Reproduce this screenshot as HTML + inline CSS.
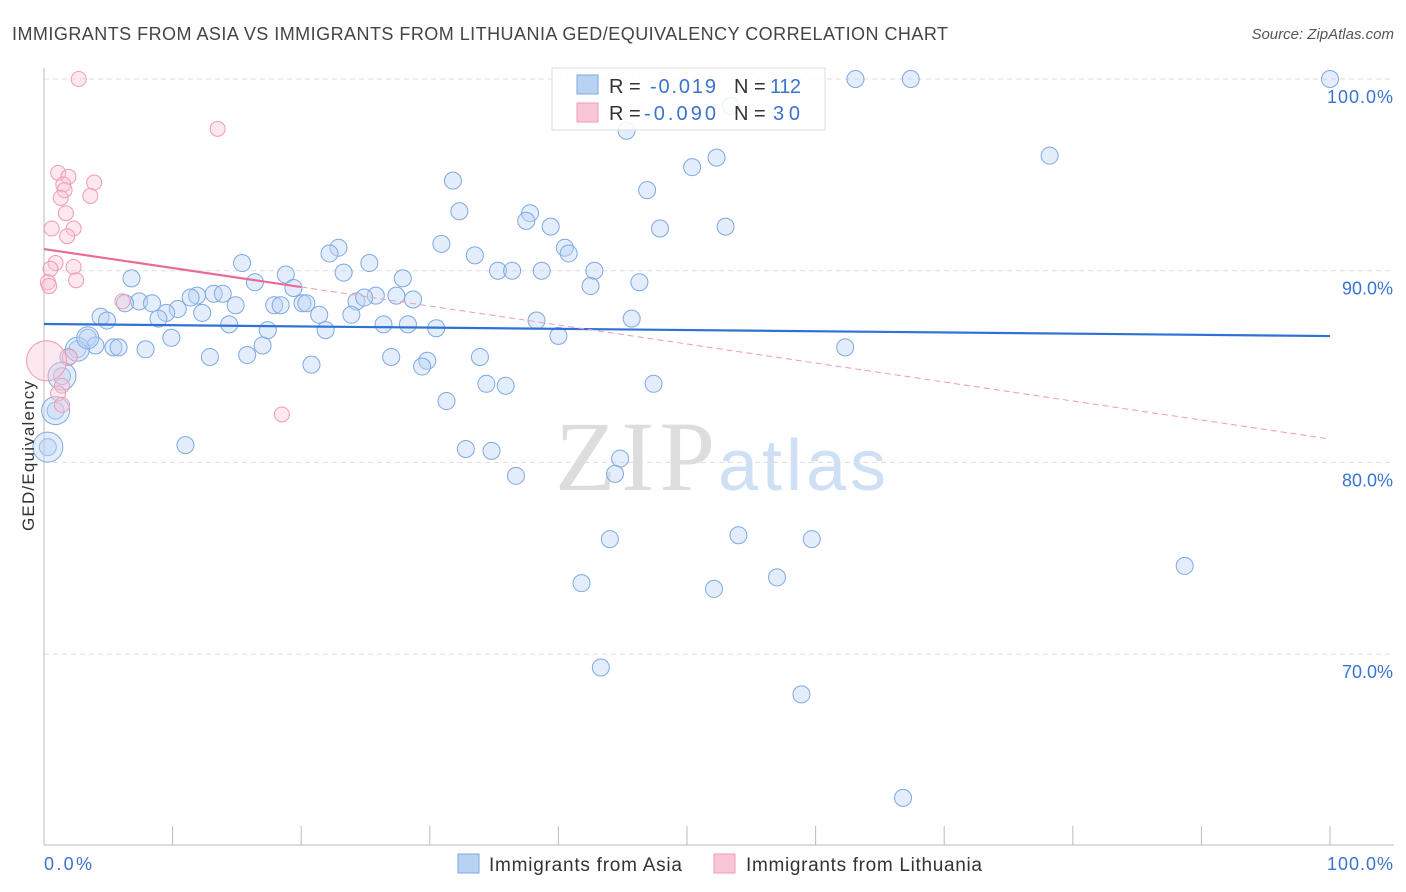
<!DOCTYPE html>
<html><head><meta charset="utf-8"><style>
body{margin:0;background:#fff;font-family:"Liberation Sans",sans-serif;}
#wrap{position:relative;width:1406px;height:892px;overflow:hidden;}
</style></head><body>
<div id="wrap">
<svg id="svg" width="1406" height="892" xmlns="http://www.w3.org/2000/svg">
<text x="12" y="40" font-size="18" fill="#444" textLength="936">IMMIGRANTS FROM ASIA VS IMMIGRANTS FROM LITHUANIA GED/EQUIVALENCY CORRELATION CHART</text>
<text x="1394" y="39" font-size="15" fill="#555" font-style="italic" text-anchor="end">Source: ZipAtlas.com</text>
<text x="555" y="490" font-size="100" fill="#ddd" textLength="160" font-family="Liberation Serif, serif">ZIP</text>
<text x="718" y="490" font-size="72" fill="#cfe0f4" textLength="168">atlas</text>
<g id="grid"></g><g id="axes"></g><g id="pts"></g><g id="lines"></g>
<g>
<rect x="552" y="68" width="273" height="62" fill="#fff" fill-opacity="0.85" stroke="#ddd"/>
<rect x="577" y="75" width="21" height="19" fill="#b8d2f4" stroke="#7fa9e2"/>
<rect x="577" y="103" width="21" height="19" fill="#f8c6d5" stroke="#f19ab5"/>
<text x="609" y="93" font-size="20" fill="#333">R = </text><text x="650" y="93" font-size="20" fill="#3a74d0" textLength="66">-0.019</text>
<text x="734" y="93" font-size="20" fill="#333">N = </text><text x="770" y="93" font-size="20" fill="#3a74d0" textLength="31">112</text>
<text x="609" y="120" font-size="20" fill="#333">R = </text><text x="644" y="120" font-size="20" fill="#3a74d0" textLength="72">-0.090</text>
<text x="734" y="120" font-size="20" fill="#333">N = </text><text x="773" y="120" font-size="20" fill="#3a74d0" textLength="27">30</text>
</g>
<g>
<rect x="458" y="854" width="21" height="19" fill="#b8d2f4" stroke="#7fa9e2"/>
<text x="489" y="871" font-size="19" fill="#333" textLength="193">Immigrants from Asia</text>
<rect x="714" y="854" width="21" height="19" fill="#f8c6d5" stroke="#f19ab5"/>
<text x="746" y="871" font-size="19" fill="#333" textLength="236">Immigrants from Lithuania</text>
</g>
<text x="34" y="456" font-size="17" fill="#333" transform="rotate(-90 34 456)" text-anchor="middle" textLength="150">GED/Equivalency</text>
<text x="44" y="870" font-size="18" fill="#3a74d0" textLength="48">0.0%</text>
<text x="1327" y="870" font-size="18" fill="#3a74d0" textLength="66">100.0%</text>
</svg>
</div>
<script>
const asiaX=[63.1,67.4,100,53.4,45.3,52.3,78.2,50.4,31.8,46.9,32.3,37.8,37.5,39.4,53.0,47.9,30.9,22.9,22.2,40.5,40.8,33.5,15.4,25.3,35.3,36.4,42.8,23.3,38.7,6.8,18.8,27.9,16.4,46.3,42.5,19.4,13.2,13.9,11.9,11.4,25.8,27.4,7.4,6.3,8.4,24.3,24.9,28.7,20.1,20.4,14.9,17.9,18.4,10.4,9.5,12.3,8.9,4.4,21.4,23.9,4.9,14.4,26.4,28.3,38.3,45.7,30.5,17.4,21.9,3.4,9.9,4.0,17.0,40.0,5.4,5.8,2.6,7.9,62.3,12.9,15.8,27.0,33.9,1.9,29.8,29.4,20.8,1.4,34.4,35.9,47.4,31.3,0.9,11.0,32.8,34.8,0.3,44.8,44.4,36.7,54.0,44.0,59.7,88.7,41.8,57.0,52.1,43.3,58.9,66.8];
const asiaY=[100,100,100,98.6,97.3,95.9,96.0,95.4,94.7,94.2,93.1,93.0,92.6,92.3,92.3,92.2,91.4,91.2,90.9,91.2,90.9,90.8,90.4,90.4,90.0,90.0,90.0,89.9,90.0,89.6,89.8,89.6,89.4,89.4,89.2,89.1,88.8,88.8,88.7,88.6,88.7,88.7,88.4,88.3,88.3,88.4,88.6,88.5,88.3,88.3,88.2,88.2,88.2,88.0,87.8,87.8,87.5,87.6,87.7,87.7,87.4,87.2,87.2,87.2,87.4,87.5,87.0,86.9,86.9,86.5,86.5,86.1,86.1,86.6,86.0,86.0,85.9,85.9,86.0,85.5,85.6,85.5,85.5,85.5,85.3,85.0,85.1,84.5,84.1,84.0,84.1,83.2,82.7,80.9,80.7,80.6,80.8,80.2,79.4,79.3,76.2,76.0,76.0,74.6,73.7,74.0,73.4,69.3,67.9,62.5];
const asiaBig=[[1.4,84.5,14],[0.9,82.7,14],[0.3,80.8,15],[2.6,85.9,12],[3.4,86.5,11]];
const lithX=[2.7,13.5,1.1,1.9,1.5,3.9,1.6,3.6,1.3,1.7,0.6,2.3,1.8,0.9,0.5,2.3,2.5,0.3,0.4,6.1,18.5,2.0,1.4,1.1,1.4];
const lithY=[100,97.4,95.1,94.9,94.5,94.6,94.2,93.9,93.8,93.0,92.2,92.2,91.8,90.4,90.1,90.2,89.5,89.4,89.2,88.4,82.5,85.5,84.0,83.6,83.0];
const lithBig=[[0.2,85.3,20]];
const asiaTrend=[87.22,86.59];
const lithTrend=[91.13,81.22];
const yTicks=[100,90,80,70];
const NS="http://www.w3.org/2000/svg";
const xs=v=>44+v*12.86, ys=v=>79+(100-v)*19.17;
function mk(t,a,p){const e=document.createElementNS(NS,t);for(const k in a)e.setAttribute(k,a[k]);document.getElementById(p).appendChild(e);return e;}
yTicks.forEach(t=>{const l=mk('line',{x1:44,x2:1394,y1:ys(t),y2:ys(t),stroke:'#ddd','stroke-dasharray':'5,4'},'grid');


const tx=mk('text',{x:1393,y:ys(t)+24,'font-size':18,fill:'#3a74d0','text-anchor':'end'},'grid');tx.textContent=t.toFixed(1)+'%';
if(t===100)tx.setAttribute('textLength','66');

});
mk('line',{x1:44,x2:44,y1:68,y2:845,stroke:'#bbb'},'axes');
mk('line',{x1:44,x2:1394,y1:845,y2:845,stroke:'#bbb'},'axes');
for(let i=0;i<=10;i++){mk('line',{x1:xs(i*10),x2:xs(i*10),y1:826,y2:845,stroke:'#bbb'},'axes');}
function dot(x,y,r,f,s,n){const c=mk('circle',{cx:xs(x),cy:ys(y),r:r,fill:f,'fill-opacity':0.4,stroke:s,'stroke-width':1},'pts');

}
asiaX.forEach((x,i)=>dot(x,asiaY[i],8.5,'#b8d2f4','#7fa9e2','asia-point'));
asiaBig.forEach(p=>dot(p[0],p[1],p[2],'#b8d2f4','#7fa9e2','asia-point'));
lithX.forEach((x,i)=>dot(x,lithY[i],7.5,'#f8c6d5','#f19ab5','lithuania-point'));
lithBig.forEach(p=>dot(p[0],p[1],p[2],'#f8c6d5','#f19ab5','lithuania-point'));
const bl=mk('line',{x1:xs(0),x2:xs(100),y1:ys(asiaTrend[0]),y2:ys(asiaTrend[1]),stroke:'#2f72d6','stroke-width':2.2},'lines');


const pAt=x=>lithTrend[0]+(lithTrend[1]-lithTrend[0])*x/100;
const pl=mk('line',{x1:xs(0),x2:xs(20),y1:ys(pAt(0)),y2:ys(pAt(20)),stroke:'#ec6b94','stroke-width':2.2},'lines');


const pd=mk('line',{x1:xs(20),x2:xs(100),y1:ys(pAt(20)),y2:ys(pAt(100)),stroke:'#f19ab5','stroke-width':1,'stroke-dasharray':'6,4'},'lines');


</script>
</body></html>
